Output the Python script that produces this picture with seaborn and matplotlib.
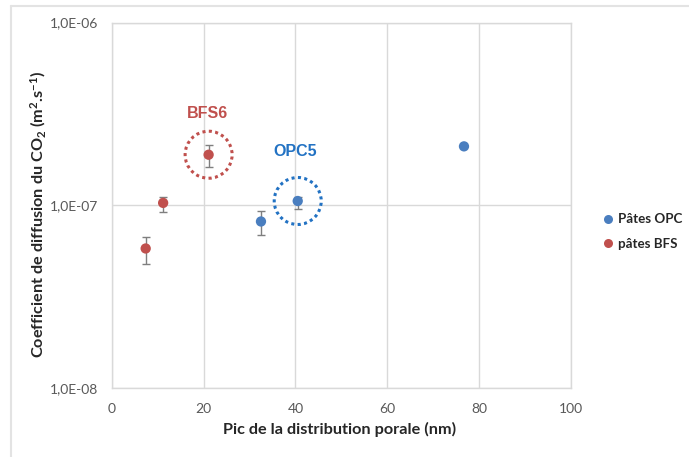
import numpy as np
import pandas as pd
import matplotlib
matplotlib.use("Agg")
import matplotlib.pyplot as plt
import matplotlib.transforms as mtransforms
from matplotlib.patches import Circle
from matplotlib.lines import Line2D
import seaborn as sns

# Données
opc_pic = [32.5, 40.5, 76.7]
opc_diff = [8.15e-8, 1.055e-7, 2.10e-7]
opc_bas = [6.9e-8, 9.55e-8, 2.10e-7]
opc_haut = [9.3e-8, 1.11e-7, 2.10e-7]

bfs_pic = [7.4, 11.2, 21.1]
bfs_diff = [5.8e-8, 1.03e-7, 1.89e-7]
bfs_bas = [4.8e-8, 9.2e-8, 1.62e-7]
bfs_haut = [6.7e-8, 1.11e-7, 2.14e-7]

series = ["Pâtes OPC", "pâtes BFS"]
x_ticks = [0, 20, 40, 60, 80, 100]
y_ticks = [1e-8, 1e-7, 1e-6]
y_ticklabels = ["1,0E-08", "1,0E-07", "1,0E-06"]

BLEU = "#4a7ebf"
ROUGE = "#c0504d"
BLEU_TXT = "#2272c3"
GRILLE = "#d9d9d9"

df = pd.DataFrame({
    "pic": opc_pic + bfs_pic,
    "diff": opc_diff + bfs_diff,
    "serie": [series[0]] * len(opc_pic) + [series[1]] * len(bfs_pic),
})

sns.set_style("white")
plt.rcParams["font.family"] = ["Lato", "DejaVu Sans"]
plt.rcParams["mathtext.default"] = "regular"

fig = plt.figure(figsize=(6.89, 4.57), dpi=100)
ax = fig.add_axes([111.7 / 689, 1 - 388 / 457, (571 - 111.7) / 689, (388 - 22.5) / 457])

# barres d'erreur
for xs, ys, lo, hi in [(opc_pic, opc_diff, opc_bas, opc_haut), (bfs_pic, bfs_diff, bfs_bas, bfs_haut)]:
    ys = np.array(ys)
    yerr = [ys - np.array(lo), np.array(hi) - ys]
    ax.errorbar(xs, ys, yerr=yerr, fmt="none", ecolor="#7f7f7f", elinewidth=1.0,
                capsize=3, capthick=1.0, zorder=2)

sns.scatterplot(data=df, x="pic", y="diff", hue="serie", palette=[BLEU, ROUGE],
                s=55, edgecolor="none", legend=False, ax=ax, zorder=3)

ax.set_yscale("log")
ax.set_xlim(0, 100)
ax.set_ylim(1e-8, 1e-6)
ax.set_xticks(x_ticks)
ax.set_yticks(y_ticks)
ax.set_yticklabels(y_ticklabels)
ax.yaxis.set_minor_locator(matplotlib.ticker.NullLocator())
ax.grid(True, color=GRILLE, linewidth=1.0)
for sp in ax.spines.values():
    sp.set_color(GRILLE)
    sp.set_linewidth(1.0)
ax.tick_params(axis="both", length=0, labelsize=10, labelcolor="#595959")
ax.tick_params(axis="y", pad=10)
ax.tick_params(axis="x", pad=11)

ax.set_xlabel("Pic de la distribution porale (nm)", fontsize=11.7, fontweight="bold", color="#262626")
ax.set_ylabel("Coefficient de diffusion du CO$_2$ (m$^2$.s$^{-1}$)", fontsize=11.7,
              fontweight="bold", color="#262626")
ax.xaxis.label.set_va("center")
ax.yaxis.label.set_va("center")
ax.xaxis.set_label_coords(0.497, -0.113)
ax.yaxis.set_label_coords(-0.16, 0.475)

# cercles pointillés autour de BFS6 et OPC5
for cx, cy, col in [(bfs_pic[2], bfs_diff[2], ROUGE), (opc_pic[1], opc_diff[1], BLEU_TXT)]:
    tr = fig.dpi_scale_trans + mtransforms.ScaledTranslation(cx, cy, ax.transData)
    ax.add_patch(Circle((0, 0), 0.235, transform=tr, fill=False, edgecolor=col,
                        linewidth=2.2, linestyle=(0, (1, 1.1)), zorder=4))

ax.annotate("BFS6", (bfs_pic[2], bfs_diff[2]), xytext=(-1, 30), textcoords="offset points",
            ha="center", va="center", fontsize=11.5, fontweight="bold", color=ROUGE,
            family=["Liberation Sans", "DejaVu Sans"])
ax.annotate("OPC5", (opc_pic[1], opc_diff[1]), xytext=(-2, 36), textcoords="offset points",
            ha="center", va="center", fontsize=11.5, fontweight="bold", color=BLEU_TXT,
            family=["Liberation Sans", "DejaVu Sans"])

handles = [Line2D([], [], marker="o", linestyle="none", markersize=6.5, color=c, markeredgewidth=0)
           for c in [BLEU, ROUGE]]
fig.legend(handles, series, loc="center left", bbox_to_anchor=(586 / 689, 1 - 231.5 / 457),
           frameon=False, handletextpad=0.0, labelspacing=0.95, handlelength=1.5,
           prop={"family": ["Lato", "DejaVu Sans"], "weight": "bold", "size": 9.6})

# cadre de la zone graphique
fig.add_artist(Line2D([11 / 689, 1], [1 - 6 / 457, 1 - 6 / 457], color="#e3e3e3", linewidth=1.5))
fig.add_artist(Line2D([11 / 689, 11 / 689], [0, 1 - 6 / 457], color="#e3e3e3", linewidth=1.5))

fig.savefig("out.png", dpi=100, facecolor="white")
